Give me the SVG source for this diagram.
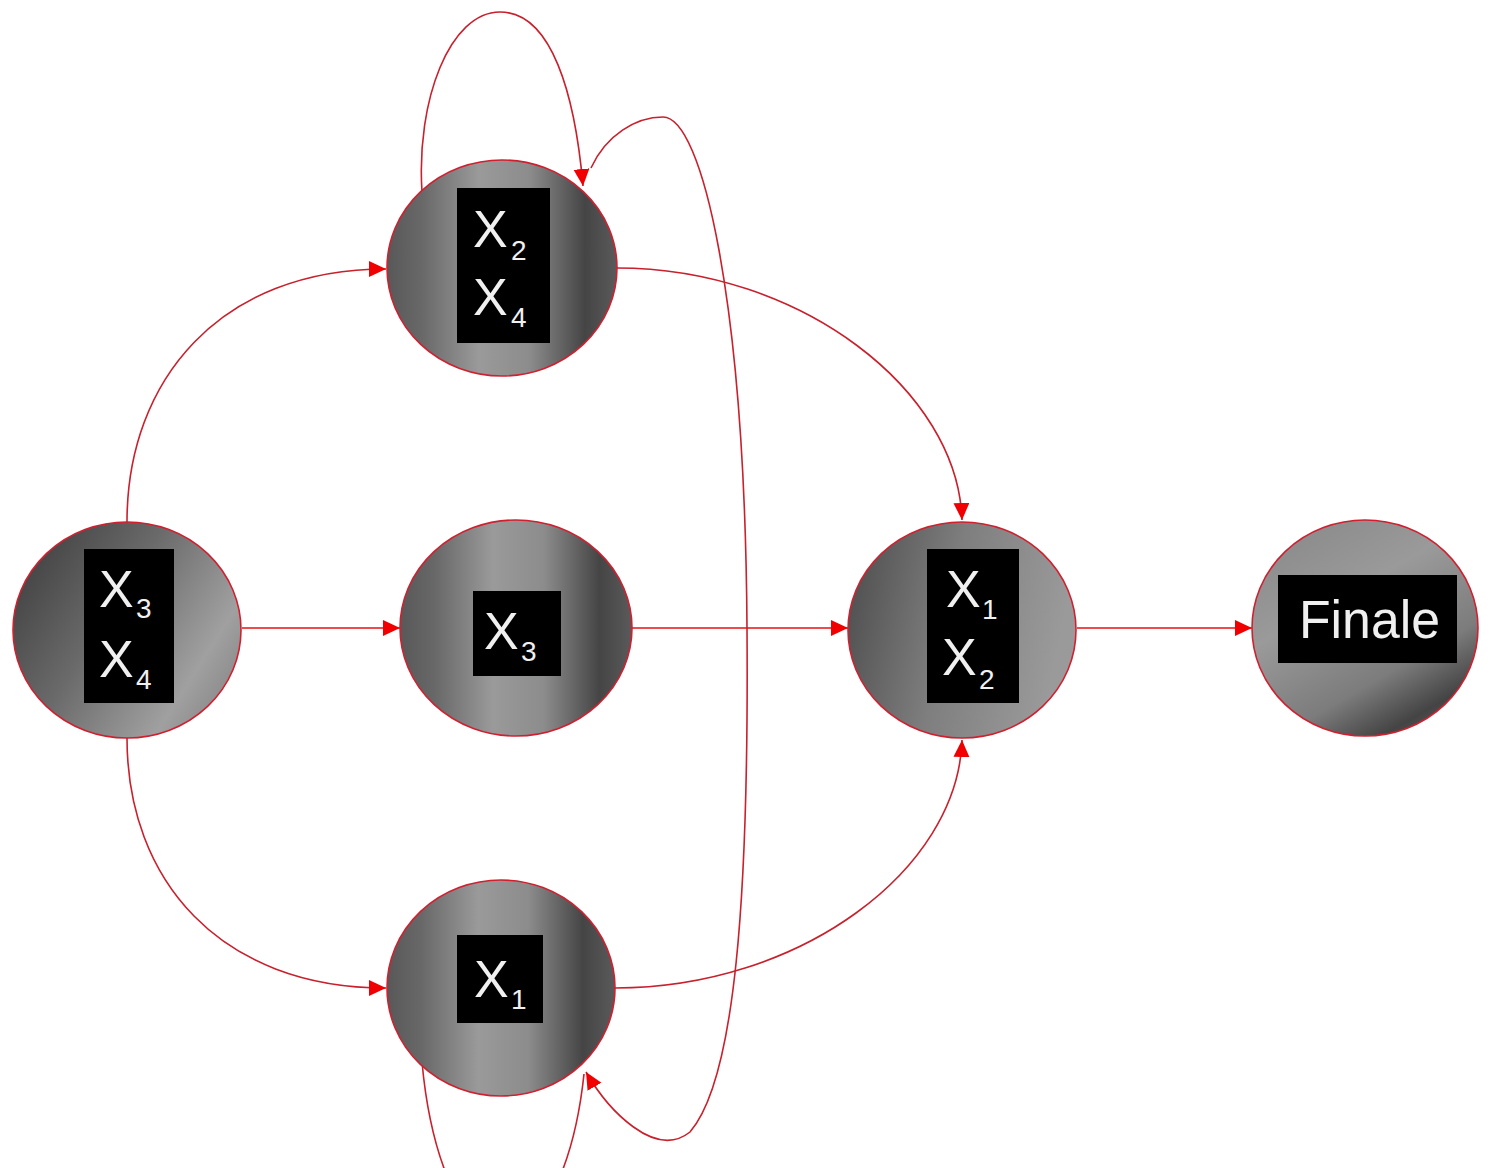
<svg xmlns="http://www.w3.org/2000/svg" width="1492" height="1168" viewBox="0 0 1492 1168">
  <style>
    .node { stroke: #d02030; stroke-width: 1.6; }
    .label-box { fill: #000; }
    .lbl { font-family: "Liberation Sans", "Noto Sans", sans-serif; fill: #f0f0f0; }
    .big { font-size: 52px; }
    .sub { font-size: 28px; }
    .edge { fill: none; stroke: #c8202c; stroke-width: 1.6; }
    .straight { fill: none; stroke: #e81010; stroke-width: 1.6; }
  </style>
  <defs>
    <marker id="arrow" markerUnits="userSpaceOnUse" markerWidth="20" markerHeight="18" refX="17" refY="8" orient="auto">
      <path d="M0,0 L17,8 L0,16 Z" fill="#f00000"/>
    </marker>
    <!-- cylindrical metallic shading -->
    <linearGradient id="gCyl" x1="0" y1="0" x2="1" y2="0">
      <stop offset="0" stop-color="#585858"/>
      <stop offset="0.15" stop-color="#686868"/>
      <stop offset="0.4" stop-color="#9a9a9a"/>
      <stop offset="0.62" stop-color="#8c8c8c"/>
      <stop offset="0.86" stop-color="#454545"/>
      <stop offset="1" stop-color="#5a5a5a"/>
    </linearGradient>
    <linearGradient id="gLeft" x1="0" y1="0.1" x2="1" y2="0.7">
      <stop offset="0" stop-color="#3c3c3c"/>
      <stop offset="0.45" stop-color="#6a6a6a"/>
      <stop offset="0.85" stop-color="#a0a0a0"/>
      <stop offset="1" stop-color="#8c8c8c"/>
    </linearGradient>
    <linearGradient id="gRight" x1="0" y1="0" x2="1" y2="0.2">
      <stop offset="0" stop-color="#4a4a4a"/>
      <stop offset="0.5" stop-color="#7e7e7e"/>
      <stop offset="1" stop-color="#9a9a9a"/>
    </linearGradient>
    <linearGradient id="gFinal" x1="0.2" y1="0" x2="0.8" y2="1">
      <stop offset="0" stop-color="#8a8a8a"/>
      <stop offset="0.35" stop-color="#9a9a9a"/>
      <stop offset="0.7" stop-color="#7c7c7c"/>
      <stop offset="0.9" stop-color="#444"/>
      <stop offset="1" stop-color="#5a5a5a"/>
    </linearGradient>
  </defs>

  <rect width="1492" height="1168" fill="#ffffff"/>

  <g id="connectors">
    <path class="edge" d="M127,522 C127,380 220,269 386,269" marker-end="url(#arrow)"/>
    <path class="edge" d="M127,738 C127,880 220,988 386,988" marker-end="url(#arrow)"/>
    <path class="straight" d="M242,628 L400,628" marker-end="url(#arrow)"/>
    <path class="straight" d="M632,628 L848,628" marker-end="url(#arrow)"/>
    <path class="straight" d="M1077,628 L1252,628" marker-end="url(#arrow)"/>
    <path class="edge" d="M617,268 C800,268 958,390 962,520" marker-end="url(#arrow)"/>
    <path class="edge" d="M615,988 C800,988 958,870 962,740" marker-end="url(#arrow)"/>
    <!-- self loop on the upper node -->
    <path class="edge" d="M422,192 C416,100 450,12 500,12 C552,12 575,95 583,186" marker-end="url(#arrow)"/>
    <!-- long loop down the right side -->
    <path class="edge" d="M591,168 C606,135 636,117 663,117 C702,117 745,300 747,628 C749,900 735,1080 690,1132 C655,1160 608,1110 586,1072" marker-end="url(#arrow)"/>
    <!-- self loop on the lower node -->
    <path class="edge" d="M422,1062 C430,1150 460,1235 502,1235 C548,1235 576,1150 584,1074"/>
  </g>

  <g id="node-x2x4">
    <ellipse class="node" cx="502" cy="268" rx="115" ry="108" fill="url(#gCyl)"/>
    <rect class="label-box" x="457" y="188" width="93" height="155"/>
    <text class="lbl"><tspan class="big" x="473" y="247">X</tspan><tspan class="sub" x="511" y="260">2</tspan></text>
    <text class="lbl"><tspan class="big" x="473" y="315">X</tspan><tspan class="sub" x="511" y="327">4</tspan></text>
  </g>

  <g id="node-x3x4">
    <ellipse class="node" cx="127" cy="630" rx="114" ry="108" fill="url(#gLeft)"/>
    <rect class="label-box" x="84" y="549" width="90" height="154"/>
    <text class="lbl"><tspan class="big" x="99" y="607">X</tspan><tspan class="sub" x="136" y="618">3</tspan></text>
    <text class="lbl"><tspan class="big" x="99" y="677">X</tspan><tspan class="sub" x="136" y="689">4</tspan></text>
  </g>

  <g id="node-x3">
    <ellipse class="node" cx="516" cy="628" rx="116" ry="108" fill="url(#gCyl)"/>
    <rect class="label-box" x="473" y="591" width="88" height="85"/>
    <text class="lbl"><tspan class="big" x="484" y="649">X</tspan><tspan class="sub" x="521" y="661">3</tspan></text>
  </g>

  <g id="node-x1x2">
    <ellipse class="node" cx="962" cy="630" rx="114" ry="108" fill="url(#gRight)"/>
    <rect class="label-box" x="927" y="549" width="92" height="154"/>
    <text class="lbl"><tspan class="big" x="946" y="607">X</tspan><tspan class="sub" x="982" y="619">1</tspan></text>
    <text class="lbl"><tspan class="big" x="942" y="675">X</tspan><tspan class="sub" x="979" y="689">2</tspan></text>
  </g>

  <g id="node-finale">
    <ellipse class="node" cx="1365" cy="628" rx="113" ry="108" fill="url(#gFinal)"/>
    <rect class="label-box" x="1278" y="575" width="179" height="88"/>
    <text class="lbl" font-size="54" x="1299" y="638" textLength="141" lengthAdjust="spacingAndGlyphs">Finale</text>
  </g>

  <g id="node-x1">
    <ellipse class="node" cx="501" cy="988" rx="114" ry="108" fill="url(#gCyl)"/>
    <rect class="label-box" x="457" y="935" width="86" height="88"/>
    <text class="lbl"><tspan class="big" x="474" y="997">X</tspan><tspan class="sub" x="511" y="1009">1</tspan></text>
  </g>
</svg>
